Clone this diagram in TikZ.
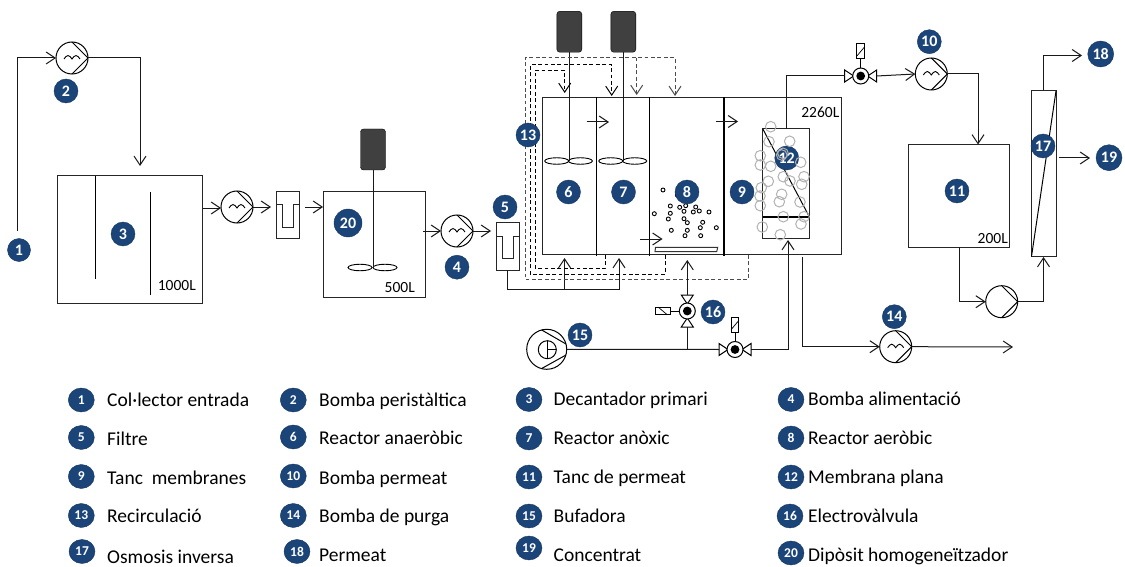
\documentclass[tikz,border=0pt]{standalone}
\usepackage{fontspec}
\setmainfont{Carlito}
\usepackage{xcolor}
\usetikzlibrary{arrows.meta,positioning,shapes.geometric}
\definecolor{badgeblue}{HTML}{1B4478}
\definecolor{motorgray}{HTML}{404040}
\newcommand{\fs}[1]{\fontsize{#1}{#1}\selectfont}
\tikzset{
  valveh/.pic={
    \draw[line width=1pt,fill=white] (-16,-6) -- (-7,0) -- (-16,6) -- cycle;
    \draw[line width=1pt,fill=white] (16,-6) -- (7,0) -- (16,6) -- cycle;
    \draw[line width=1pt] (0,-8) -- (0,-17);
    \draw[line width=1pt,fill=white] (-3.8,-32) rectangle (3.8,-17);
    \draw[line width=0.7pt] (-3.8,-20) -- (3.8,-29);
    \draw[line width=1pt,fill=white] (0,0) circle[radius=8];
    \fill (0,0) circle[radius=4.4];
    \coordinate (-west) at (-16,0);
    \coordinate (-east) at (16,0);
  }
}
\begin{document}
\begin{tikzpicture}[
  x=1pt, y=-1pt,
  pipe/.style={line width=1pt, draw=black!90},
  arr/.style={pipe, -{Straight Barb[length=9pt,width=12pt]}},
  recirc/.style={line width=1pt, dash pattern=on 3.8pt off 2.6pt, -{Straight Barb[length=9pt,width=12pt]}},
  tank/.style={rectangle, draw=black!85, line width=1pt, inner sep=0pt, outer sep=0pt},
  motor/.style={rectangle, rounded corners=3pt, draw=black, fill=motorgray, minimum width=25pt, minimum height=41pt, inner sep=0pt, outer sep=0pt},
  blade/.style={ellipse, draw, line width=0.9pt, minimum width=24pt, minimum height=6.5pt, inner sep=0pt, outer sep=0pt},
  pump/.style={circle, draw, fill=white, line width=1pt, minimum size=32pt, inner sep=0pt, outer sep=0pt,
    path picture={\draw[line width=1pt] (path picture bounding box.center) ++(0,-16) -- ++(16,16) -- ++(-16,16);}},
  wpump/.style={pump,
    path picture={\draw[line width=1pt] (path picture bounding box.center) ++(0,-16) -- ++(16,16) -- ++(-16,16);
      \draw[line width=0.9pt] (path picture bounding box.center) ++(-8,1) sin ++(4,-3.5) cos ++(4,3.5) sin ++(4,-3.5) cos ++(4,3.5);}},
  filterbox/.style={rectangle, draw=black!85, fill=white, line width=1pt, minimum width=23.5pt, minimum height=47.5pt, inner sep=0pt, outer sep=0pt,
    path picture={\draw[line width=1pt] (path picture bounding box.center) ++(-12,-10.5) -- ++(6.25,0) -- ++(0,22.5) -- ++(11.5,0) -- ++(0,-22.5) -- ++(6.25,0);}},
  badge/.style={circle, fill=badgeblue, draw=badgeblue!80!black, minimum size=24pt, inner sep=0pt, text=white, font=\bfseries\fs{16}},
  lgbadge/.style={ellipse, fill=badgeblue, draw=badgeblue!80!black, minimum width=26pt, minimum height=24pt, inner sep=0pt, text=white, font=\bfseries\fs{13.5}},
  lgtext/.style={anchor=base west, inner sep=0pt, font=\fs{19.5}},
  vol/.style={anchor=base east, inner sep=0pt, font=\fs{15.5}},
  gasbubble/.style={draw=black!30, line width=1pt},
  airbubble/.style={draw=black, line width=0.9pt}
]
\useasboundingbox (0,0) rectangle (1125,567);

% free pipe ends
\coordinate (colin) at (17,231);
\coordinate (in3) at (140,166);
\coordinate (out3) at (203,208);
\coordinate (in20) at (323,207);
\coordinate (out20) at (423,231);
\coordinate (in5) at (491,231);
\coordinate (inmem) at (788,240);
\coordinate (memtop) at (786.7,129);
\coordinate (in11) at (978,144.5);
\coordinate (out11) at (959.5,247);
\coordinate (in17) at (1043.5,257);
\coordinate (out17) at (1043.5,90);
\coordinate (conc17) at (1059,158);
\coordinate (purgeout) at (802.5,257);
\coordinate (purgeend) at (1013,347);
\coordinate (split) at (564.5,289);
\coordinate (in6b) at (564.5,258);
\coordinate (in7b) at (619,258);
\coordinate (in8b) at (687.3,260);
\coordinate (airjoin) at (687.3,348.7);

% equipment
\node[tank, minimum width=145pt, minimum height=127pt] (decant) at (129.5,239.5) {};
\node[tank, minimum width=102pt, minimum height=105pt] (homog) at (374.5,244.5) {};
\node[tank, minimum width=298.5pt, minimum height=157pt] (react) at (691.75,176) {};
\node[tank, minimum width=46.6pt, minimum height=109.6pt] (memb) at (786,183.5) {};
\node[tank, minimum width=101pt, minimum height=102.5pt] (perm) at (959,195.75) {};
\node[tank, minimum width=24.5pt, minimum height=165.5pt] (romod) at (1043.75,173.75) {};

\node[motor] (mot20) at (373,149.5) {};
\node[motor] (mot6) at (569.3,31.75) {};
\node[motor] (mot7) at (623.3,31.75) {};
\node[blade] (bl20a) at (360,267.5) {};
\node[blade] (bl20b) at (385,267.5) {};
\node[blade] (bl6a) at (556.7,161) {};
\node[blade] (bl6b) at (580.4,161) {};
\node[blade] (bl7a) at (610.8,161) {};
\node[blade] (bl7b) at (634.7,161) {};

\node[wpump] (pumpperi) at (72,58) {};
\node[wpump] (pumpdec) at (237,207) {};
\node[wpump] (pumpfeed) at (457,231) {};
\node[wpump] (pumpperm) at (931.3,74) {};
\node[wpump] (pumppurge) at (895.7,346.7) {};
\node[pump] (pumpro) at (1001.7,301.7) {};
\node[filterbox] (filtA) at (288,215.2) {};
\node[filterbox] (filtB) at (507.75,246.5) {};

% walls and membrane
\draw[line width=1pt] (95.5,176) -- (95.5,279);
\draw[line width=1pt] (150.5,192) -- (150.5,295);
\draw[line width=1pt] (596.5,97.5) -- (596.5,255.5);
\draw[line width=1pt] (649.5,97.5) -- (649.5,255.5);
\draw[line width=2pt] (724,97.5) -- (724,255.5);
\draw[line width=1pt] (memb.north west) -- (809.3,216.7);
\draw[line width=2pt] (762.7,216.7) -- (809.3,216.7);
\draw[line width=1pt, draw=black!80, fill=white] (655.5,247.3) -- (717.7,247.3) -- (716.7,251.7) -- (655,251.7) -- cycle;
\draw[line width=1pt] (romod.south west) -- (romod.north east);

% pipes
\draw[arr] (colin) |- (pumpperi.west);
\draw[arr] (pumpperi.east) -| (in3);
\draw[arr] (out3) -- (out3 -| pumpdec.west);
\draw[arr] (pumpdec.east) -- ++(18,0);
\draw[arr] (in20) ++(-18,0) -- (in20);
\draw[arr] (out20) -- (pumpfeed.west);
\draw[arr] (pumpfeed.east) -- (in5);
\draw[pipe] (mot20.south) -- (mot20.south |- bl20a);
\draw[pipe] (mot6.south) -- (mot6.south |- bl6b);
\draw[pipe] (mot7.south) -- (mot7.south |- bl7b);
\draw[pipe] (filtB.south) |- (split);
\draw[arr] (split) -- (in6b);
\draw[arr] (split) -| (in7b);
\draw[arr] (out11) |- (pumpro.west);
\draw[arr] (pumpro.east) -| (in17);
\draw[arr] (out17) |- (1082,55.5) coordinate (to18);
\draw[arr] (conc17) -- ++(31,0);
\draw[arr] (pumpperm.east) -| (in11);
\draw[arr] (purgeout) |- (pumppurge.west);
\draw[arr] (pumppurge.east) -- (purgeend);

% flow arrows between the reactors
\coordinate (fa) at (586.5,122);
\coordinate (fb) at (715.5,121.5);
\coordinate (fc) at (640,239);
\draw[arr] (fa) -- ++(22.5,0);
\draw[arr] (fb) -- ++(22.5,0);
\draw[arr] (fc) -- ++(22.5,0);

% recirculation lines
\coordinate (ra) at (605.7,255);
\coordinate (rb) at (535,268);
\coordinate (rc) at (535,70.3);
\coordinate (rd) at (564.7,93);
\coordinate (sa) at (665,255);
\coordinate (sb) at (530,274);
\coordinate (sc) at (530,65);
\coordinate (sd) at (611.7,96);
\coordinate (ta) at (748.3,255);
\coordinate (tb) at (525,279.3);
\coordinate (tc) at (525,57.7);
\coordinate (td) at (675,96);
\coordinate (te) at (636.7,57.7);
\coordinate (tf) at (636.7,95);
\draw[recirc] (ra) |- (rb) -- (rc) -| (rd);
\draw[recirc] (sa) |- (sb) -- (sc) -| (sd);
\draw[recirc, draw=black!70] (ta) |- (tb) -- (tc) -| (td);
\draw[recirc, draw=black!70] (te) -- (tf);

% air line and valves
\node[circle, draw, line width=1pt, fill=white, minimum size=40pt, inner sep=0pt, outer sep=0pt] (blower) at (546.7,349.3) {};
\node[circle, draw, line width=1pt, minimum size=18pt, inner sep=0pt, outer sep=0pt] (blowcore) at (547.3,349.7) {};
\draw[line width=1pt] (blowcore.north) -- (blowcore.south);
\draw[line width=1pt] (blowcore.center) -- (blowcore.east);
\draw[line width=1pt] (541.7,330) -- (566,344);
\draw[line width=1pt] (541.7,368.5) -- (566,355);
\pic (valvemem) at (860.7,76) {valveh};
\pic (valveair) at (735,349.5) {valveh};
\pic[rotate=90] (valveaer) at (687.3,311) {valveh};
\draw[pipe] (memtop) |- (valvemem-west);
\draw[arr] (valvemem-east) -- (pumpperm.west);
\draw[pipe] (blower.east) -- (valveair-west);
\draw[arr] (valveair-east) -| (inmem);
\draw[pipe] (airjoin) -- (valveaer-west);
\draw[arr] (valveaer-east) -- (in8b);

% aerobic bubbles
\draw[airbubble]
  (663,190) circle[radius=2] (678.3,190) circle[radius=2] (677.3,195) circle[radius=2] (692.7,195) circle[radius=2]
  (670.3,206) circle[radius=2] (679.7,207.3) circle[radius=2] (685.7,205.7) circle[radius=2] (695.7,207) circle[radius=2]
  (684,211.3) circle[radius=2] (693.3,212) circle[radius=2] (699.3,211) circle[radius=2] (709,212) circle[radius=2]
  (654.3,213.7) circle[radius=2] (670.3,213.3) circle[radius=2] (668.3,219) circle[radius=2] (684,218.7) circle[radius=2]
  (687.3,222.7) circle[radius=2] (702.7,222.3) circle[radius=2] (700.3,227.7) circle[radius=2] (716.3,227.7) circle[radius=2]
  (671.3,230.3) circle[radius=2] (687.3,230.3) circle[radius=2] (685,235.7) circle[radius=2] (700.7,235.7) circle[radius=2];

% badges
\node[badge, minimum size=23pt] (bdg1) at (19,250) {1};
\node[badge] (bdg2) at (66,91) {2};
\node[badge] (bdg3) at (123,234) {3};
\node[badge, below=8pt of pumpfeed] (bdg4) {4};
\node[badge] (bdg5) at (505,207) {5};
\node[badge] (bdg6) at (568.5,192) {6};
\node[badge] (bdg7) at (623.5,192) {7};
\node[badge] (bdg8) at (687,192) {8};
\node[badge] (bdg9) at (742,192) {9};
\node[badge] (bdg10) at (929.3,41.7) {10};
\node[badge] (bdg11) at (957,191) {11};
\node[badge] (bdg12) at (786.7,158) {12};
\node[badge] (bdg13) at (528,135) {13};
\node[badge] (bdg14) at (894.3,316.7) {14};
\node[badge] (bdg15) at (580,335) {15};
\node[badge] (bdg16) at (713,312) {16};
\node[badge] (bdg17) at (1043,146) {17};
\node[badge, minimum size=26pt] (bdg18) at (1100.7,54) {18};
\node[badge, minimum size=26pt] (bdg19) at (1109,157.7) {19};
\node[badge, minimum width=28pt, minimum height=24pt] (bdg20) at (348,223) {20};

% membrane bubbles, over its badge
\draw[gasbubble]
  (770.7,126.7) circle[radius=5.3] (769,141.7) circle[radius=5.3] (789.7,141.3) circle[radius=5.3] (760.3,155.7) circle[radius=5.3]
  (781.7,155) circle[radius=5.3] (783,153.3) circle[radius=5.3] (760.3,165) circle[radius=5.3] (770.7,166.3) circle[radius=5.3]
  (800.7,162.3) circle[radius=5.3] (783.3,176.7) circle[radius=5.3] (768.3,181.3) circle[radius=5.3] (790,181) circle[radius=5.3]
  (804,176.7) circle[radius=5.3] (801.7,184.3) circle[radius=5.3] (761.3,187.7) circle[radius=5.3] (760,196) circle[radius=5.3]
  (781.7,194.3) circle[radius=5.3] (779.3,201.7) circle[radius=5.3] (760.3,205.7) circle[radius=5.3] (800,202) circle[radius=5.3]
  (783.3,216.7) circle[radius=5.3] (804,216.7) circle[radius=5.3] (801,224) circle[radius=5.3] (762.3,227) circle[radius=5.3]
  (780.3,234.7) circle[radius=5.3];

% volumes
\node[vol] (vol3) at (196,290) {1000L};
\node[vol] (vol20) at (415,292) {500L};
\node[vol] (volreact) at (839.5,118) {2260L};
\node[vol] (vol11) at (1008,243) {200L};

% legend
\node[lgbadge] (lg1) at (81.3,400) {1};
\node[lgbadge] (lg2) at (293.3,400) {2};
\node[lgbadge] (lg3) at (529,399.5) {3};
\node[lgbadge] (lg4) at (791,399.5) {4};
\node[lgbadge] (lg5) at (81.3,437.5) {5};
\node[lgbadge] (lg6) at (293.3,437) {6};
\node[lgbadge] (lg7) at (529,438) {7};
\node[lgbadge] (lg8) at (791,438) {8};
\node[lgbadge] (lg9) at (81.3,476.5) {9};
\node[lgbadge] (lg10) at (293.3,476) {10};
\node[lgbadge] (lg11) at (529,477) {11};
\node[lgbadge] (lg12) at (791,477) {12};
\node[lgbadge] (lg13) at (81.3,515.5) {13};
\node[lgbadge] (lg14) at (293.3,515.5) {14};
\node[lgbadge] (lg15) at (529,516) {15};
\node[lgbadge] (lg16) at (790,516) {16};
\node[lgbadge] (lg17) at (82,551.5) {17};
\node[lgbadge] (lg18) at (297,551.5) {18};
\node[lgbadge] (lg19) at (529,548) {19};
\node[lgbadge] (lg20) at (791,553) {20};

\node[lgtext] (txt1) at (107,406.5) {Col·lector entrada};
\node[lgtext] (txt2) at (319,406) {Bomba peristàltica};
\node[lgtext] (txt3) at (553.5,405.5) {Decantador primari};
\node[lgtext] (txt4) at (808,405.5) {Bomba alimentació};
\node[lgtext] (txt5) at (107,445) {Filtre};
\node[lgtext] (txt6) at (319,444.5) {Reactor anaeròbic};
\node[lgtext] (txt7) at (553.5,444) {Reactor anòxic};
\node[lgtext] (txt8) at (808,444) {Reactor aeròbic};
\node[lgtext] (txt9) at (107,484) {Tanc \ membranes};
\node[lgtext] (txt10) at (319,484) {Bomba permeat};
\node[lgtext] (txt11) at (553.5,483) {Tanc de permeat};
\node[lgtext] (txt12) at (808,483) {Membrana plana};
\node[lgtext] (txt13) at (107,522.5) {Recirculació};
\node[lgtext] (txt14) at (319,522) {Bomba de purga};
\node[lgtext] (txt15) at (553.5,522) {Bufadora};
\node[lgtext] (txt16) at (808,522) {Electrovàlvula};
\node[lgtext] (txt17) at (107,563) {Osmosis inversa};
\node[lgtext] (txt18) at (319,561.5) {Permeat};
\node[lgtext] (txt19) at (553.5,561) {Concentrat};
\node[lgtext] (txt20) at (808,561) {Dipòsit homogeneïtzador};
\end{tikzpicture}
\end{document}
